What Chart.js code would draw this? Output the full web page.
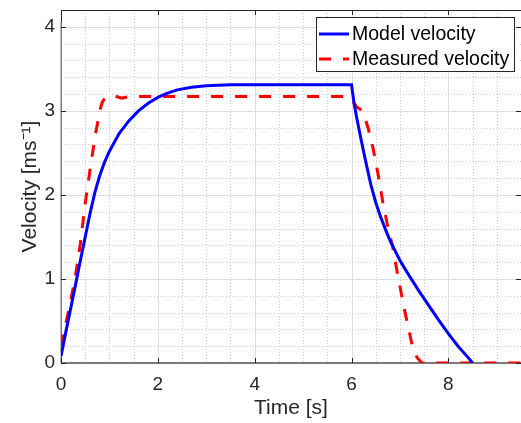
<!DOCTYPE html>
<html>
<head>
<meta charset="utf-8">
<script src="https://cdn.jsdelivr.net/npm/chart.js@4/dist/chart.umd.min.js"></script>
<style>
  html, body { margin: 0; padding: 0; background: #fff; }
  #wrap { position: relative; width: 521px; height: 423px; }
</style>
</head>
<body>
<div id="wrap"><canvas id="c" width="521" height="423"></canvas></div>
<script>
// ---- data ----
const modelTime = [0,0.1,0.2,0.3,0.4,0.5,0.6,0.7,0.8,0.9,1.0,1.2,1.4,1.6,1.8,2.0,2.2,2.4,2.7,3.0,3.5,4.0,5.0,6.0,
                   6.05,6.1,6.2,6.3,6.4,6.5,6.6,6.7,6.8,7.0,7.2,7.4,7.6,7.8,8.0,8.2,8.4,8.5];
const modelVelocity = [0.08,0.37,0.65,0.93,1.22,1.50,1.78,2.03,2.23,2.39,2.52,2.73,2.88,3.00,3.09,3.16,3.21,3.25,3.28,3.30,3.31,3.31,3.31,3.31,
                   3.10,2.94,2.65,2.38,2.12,1.91,1.74,1.59,1.45,1.22,1.03,0.85,0.68,0.51,0.35,0.20,0.07,0.0];
const measuredTime = [0,0.1,0.2,0.3,0.4,0.5,0.6,0.7,0.8,0.85,0.9,1.0,1.1,1.25,1.4,5.9,
                   6.0,6.1,6.2,6.25,6.35,6.45,6.55,6.65,6.75,6.85,6.95,7.05,7.15,7.25,7.35,7.45,9.5];
const measuredVelocity = [0.20,0.47,0.74,1.04,1.42,1.90,2.30,2.68,3.00,3.10,3.15,3.18,3.18,3.15,3.17,3.17,
                   3.14,3.05,3.01,2.97,2.78,2.54,2.24,1.90,1.62,1.38,1.06,0.76,0.48,0.22,0.07,0.0,0.0];
const seriesNames = ['Model velocity', 'Measured velocity'];
const xMajorTicks = [0,2,4,6,8];
const yMajorTicks = [0,1,2,3,4];
const xMinorTicks = [0.5,1,1.5,2.5,3,3.5,4.5,5,5.5,6.5,7,7.5,8.5,9];
const yMinorTicks = [0.2,0.4,0.6,0.8,1.2,1.4,1.6,1.8,2.2,2.4,2.6,2.8,3.2,3.4,3.6,3.8,4.2];
const xTitle = 'Time [s]';
const yTitle = 'Velocity [ms\u207B\u00B9]';

const FONT = '"Liberation Sans", Arial, Helvetica, sans-serif';
const TXT = '#262626';

const toPts = (xs, ys) => xs.map((x, i) => ({x: x, y: ys[i]}));

const frame = {
  id: 'frame',
  beforeDatasetsDraw(chart) {
    const {ctx, chartArea: a, scales: {x, y}} = chart;
    ctx.save();
    ctx.strokeStyle = '#cdcdcd';
    ctx.lineWidth = 1;
    ctx.setLineDash([1, 2]);
    xMinorTicks.forEach(v => {
      const px = Math.round(x.getPixelForValue(v)) + 0.5;
      ctx.beginPath(); ctx.moveTo(px, a.top); ctx.lineTo(px, a.bottom); ctx.stroke();
    });
    yMinorTicks.forEach(v => {
      const py = Math.round(y.getPixelForValue(v)) + 0.5;
      ctx.beginPath(); ctx.moveTo(a.left, py); ctx.lineTo(a.right, py); ctx.stroke();
    });
    ctx.setLineDash([]);
    ctx.strokeStyle = '#dedede';
    xMajorTicks.forEach(v => {
      if (v === 0) return;
      const px = Math.round(x.getPixelForValue(v)) + 0.5;
      ctx.beginPath(); ctx.moveTo(px, a.top); ctx.lineTo(px, a.bottom); ctx.stroke();
    });
    yMajorTicks.forEach(v => {
      if (v === 0) return;
      const py = Math.round(y.getPixelForValue(v)) + 0.5;
      ctx.beginPath(); ctx.moveTo(a.left, py); ctx.lineTo(a.right, py); ctx.stroke();
    });
    // axes box
    ctx.strokeStyle = '#262626';
    ctx.lineWidth = 1;
    ctx.beginPath();
    ctx.moveTo(a.left + 0.5, a.bottom); ctx.lineTo(a.left + 0.5, a.top + 0.5); ctx.lineTo(a.right, a.top + 0.5);
    ctx.stroke();
    ctx.strokeStyle = '#7a7a7a';
    ctx.lineWidth = 2;
    ctx.beginPath(); ctx.moveTo(a.left, a.bottom); ctx.lineTo(a.right, a.bottom); ctx.stroke();
    ctx.lineWidth = 1.5;
    ctx.beginPath(); ctx.moveTo(a.left + 0.25, a.bottom); ctx.lineTo(a.left + 0.25, a.top + 12); ctx.stroke();
    // inward ticks
    ctx.strokeStyle = '#262626';
    ctx.lineWidth = 1;
    const tl = 5;
    xMajorTicks.forEach(v => {
      const px = Math.round(x.getPixelForValue(v)) + 0.5;
      ctx.beginPath(); ctx.moveTo(px, a.bottom); ctx.lineTo(px, a.bottom - tl); ctx.stroke();
      ctx.beginPath(); ctx.moveTo(px, a.top); ctx.lineTo(px, a.top + tl); ctx.stroke();
    });
    yMajorTicks.forEach(v => {
      const py = Math.round(y.getPixelForValue(v)) + 0.5;
      ctx.beginPath(); ctx.moveTo(a.left, py); ctx.lineTo(a.left + tl, py); ctx.stroke();
      ctx.beginPath(); ctx.moveTo(a.right, py); ctx.lineTo(a.right - tl, py); ctx.stroke();
    });
    ctx.restore();
  },
  afterDatasetsDraw(chart) {
    const {ctx} = chart;
    ctx.save();
    // legend
    const ds = chart.data.datasets;
    const bx = 316.5, by = 17.5, bw = 198, bh = 54;
    ctx.fillStyle = '#fff';
    ctx.fillRect(bx, by, bw, bh);
    ctx.strokeStyle = '#262626';
    ctx.lineWidth = 1;
    ctx.strokeRect(bx, by, bw, bh);
    const rows = [34, 59];
    ctx.font = '19.5px ' + FONT;
    ctx.textBaseline = 'middle';
    ctx.textAlign = 'left';
    ds.forEach((d, i) => {
      ctx.strokeStyle = d.borderColor;
      ctx.lineWidth = d.borderWidth;
      ctx.setLineDash(d.borderDash || []);
      ctx.beginPath(); ctx.moveTo(319, rows[i]); ctx.lineTo(349, rows[i]); ctx.stroke();
      ctx.setLineDash([]);
      ctx.fillStyle = '#000';
      ctx.fillText(d.label, 352, rows[i] + 1);
    });
    ctx.restore();
  }
};

new Chart(document.getElementById('c'), {
  type: 'line',
  data: {
    datasets: [
      { label: seriesNames[0], data: toPts(modelTime, modelVelocity), borderColor: '#0000ff', borderWidth: 3,
        pointRadius: 0, tension: 0, fill: false },
      { label: seriesNames[1], data: toPts(measuredTime, measuredVelocity), borderColor: '#ff0000', borderWidth: 3,
        borderDash: [12, 12], pointRadius: 0, tension: 0, fill: false }
    ]
  },
  options: {
    responsive: false,
    animation: false,
    events: [],
    layout: { padding: { top: 10, right: 0, left: 0, bottom: 0 } },
    plugins: { legend: { display: false }, tooltip: { enabled: false } },
    scales: {
      x: {
        type: 'linear', min: 0, max: 9.5,
        afterBuildTicks: s => { s.ticks = xMajorTicks.map(v => ({value: v})); },
        afterFit: s => { s.height = 60; s.paddingLeft = 0; s.paddingRight = 0; },
        grid: { display: false, drawTicks: false },
        border: { display: false },
        ticks: { color: TXT, font: { family: FONT, size: 19 }, padding: 10, maxRotation: 0 },
        title: { display: true, text: xTitle, color: TXT, font: { family: FONT, size: 21 }, padding: { top: 0, bottom: 2 } }
      },
      y: {
        type: 'linear', min: 0, max: 4.2,
        afterBuildTicks: s => { s.ticks = yMajorTicks.map(v => ({value: v})); },
        afterFit: s => { s.width = 61; s.paddingTop = 0; s.paddingBottom = 0; },
        grid: { display: false, drawTicks: false },
        border: { display: false },
        ticks: { color: TXT, font: { family: FONT, size: 19 }, padding: 6 },
        title: { display: true, text: yTitle, color: TXT, font: { family: FONT, size: 21 }, padding: { top: 18, bottom: 0 } }
      }
    }
  },
  plugins: [frame]
});
</script>
</body>
</html>
